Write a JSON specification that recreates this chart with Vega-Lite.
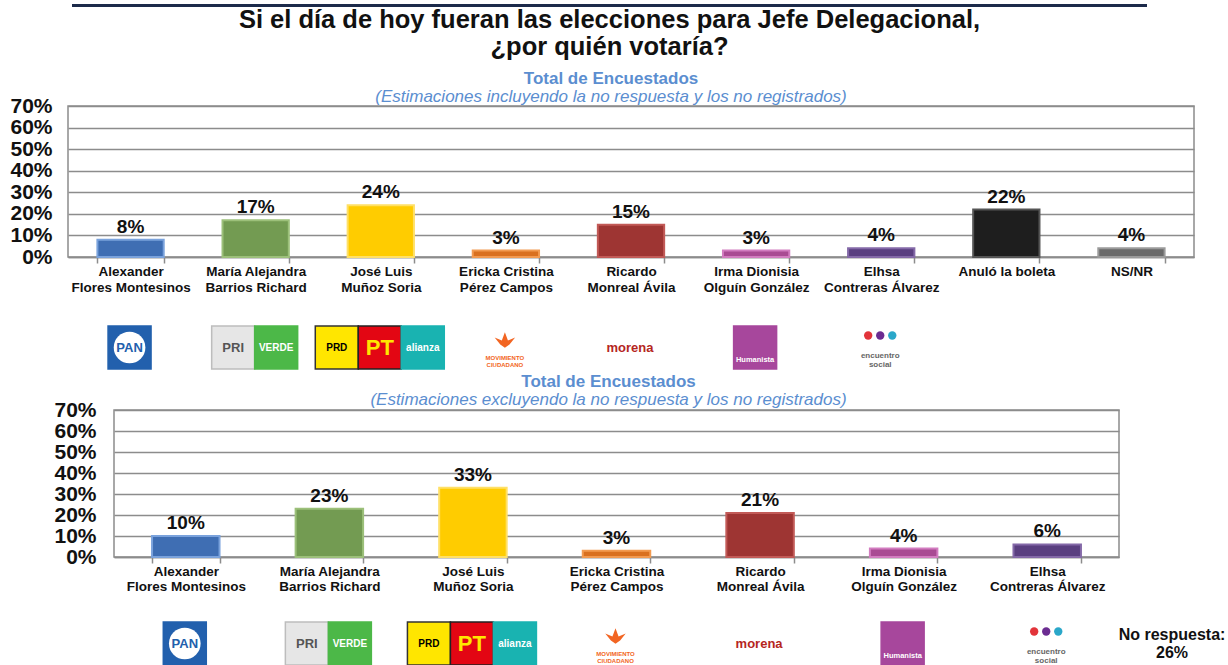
{
  "$schema": "https://vega.github.io/schema/vega-lite/v6.json",
  "padding": {"left": 8, "top": 2, "right": 0, "bottom": 0},
  "background": "white",
  "config": {
    "font": "Liberation Sans",
    "view": {"stroke": "#8c8c8c", "strokeWidth": 1.5},
    "text": {"lineBreak": "\n"}
  },
  "datasets": {
    "incl": [
      {"candidato": "Alexander\nFlores Montesinos", "pct": 0.08},
      {"candidato": "María Alejandra\nBarrios Richard", "pct": 0.17},
      {"candidato": "José Luis\nMuñoz Soria", "pct": 0.24},
      {"candidato": "Ericka Cristina\nPérez Campos", "pct": 0.03},
      {"candidato": "Ricardo\nMonreal Ávila", "pct": 0.15},
      {"candidato": "Irma Dionisia\nOlguín González", "pct": 0.03},
      {"candidato": "Elhsa\nContreras Álvarez", "pct": 0.04},
      {"candidato": "Anuló la boleta", "pct": 0.22},
      {"candidato": "NS/NR", "pct": 0.04}
    ],
    "excl": [
      {"candidato": "Alexander\nFlores Montesinos", "pct": 0.10},
      {"candidato": "María Alejandra\nBarrios Richard", "pct": 0.23},
      {"candidato": "José Luis\nMuñoz Soria", "pct": 0.33},
      {"candidato": "Ericka Cristina\nPérez Campos", "pct": 0.03},
      {"candidato": "Ricardo\nMonreal Ávila", "pct": 0.21},
      {"candidato": "Irma Dionisia\nOlguín González", "pct": 0.04},
      {"candidato": "Elhsa\nContreras Álvarez", "pct": 0.06}
    ],
    "logos": [
      {"cat": "Alexander\nFlores Montesinos", "logo": "PAN", "slot": 0, "label": "PAN"},
      {"cat": "María Alejandra\nBarrios Richard", "logo": "PRI", "slot": -0.5, "label": "PRI"},
      {"cat": "María Alejandra\nBarrios Richard", "logo": "VERDE", "slot": 0.5, "label": "VERDE"},
      {"cat": "José Luis\nMuñoz Soria", "logo": "PRD", "slot": -1, "label": "PRD"},
      {"cat": "José Luis\nMuñoz Soria", "logo": "PT", "slot": 0, "label": "PT"},
      {"cat": "José Luis\nMuñoz Soria", "logo": "ALIANZA", "slot": 1, "label": "alianza"},
      {"cat": "Ericka Cristina\nPérez Campos", "logo": "MC", "slot": 0, "label": "MOVIMIENTO\nCIUDADANO"},
      {"cat": "Ricardo\nMonreal Ávila", "logo": "MORENA", "slot": 0, "label": "morena"},
      {"cat": "Irma Dionisia\nOlguín González", "logo": "HUM", "slot": 0, "label": "Humanista"},
      {"cat": "Elhsa\nContreras Álvarez", "logo": "ES", "slot": 0, "label": "encuentro\nsocial"},
      {"cat": "Elhsa\nContreras Álvarez", "logo": "ES1", "slot": -0.28, "label": ""},
      {"cat": "Elhsa\nContreras Álvarez", "logo": "ES2", "slot": 0, "label": ""},
      {"cat": "Elhsa\nContreras Álvarez", "logo": "ES3", "slot": 0.28, "label": ""}
    ]
  },
  "resolve": {"scale": {"x": "independent", "y": "independent", "xOffset": "independent", "color": "independent", "fill": "independent", "stroke": "independent", "size": "independent"}},
  "spacing": 8,
  "vconcat": [
    {
      "resolve": {"scale": {"x": "independent", "y": "independent", "xOffset": "independent", "color": "independent", "fill": "independent", "stroke": "independent", "size": "independent"}},
      "spacing": 0,
      "hconcat": [
        {
          "width": 64, "height": 3, "view": {"stroke": null},
          "data": {"values": [{"k": 1}]},
          "mark": {"type": "point", "opacity": 0}, "encoding": {}
        },
        {
          "width": 1075,
          "height": 3,
          "view": {"fill": "#1c2a4a", "stroke": null},
          "data": {"values": [{"k": 1}]},
          "mark": {"type": "point", "opacity": 0},
          "encoding": {},
          "title": {
            "text": ["Si el día de hoy fueran las elecciones para Jefe Delegacional,", "¿por quién votaría?"],
            "orient": "bottom", "anchor": "middle", "fontSize": 25.5, "fontWeight": "bold",
            "lineHeight": 27, "offset": 0, "color": "#111111"
          }
        }
      ]
    },
    {
      "resolve": {"scale": {"x": "independent", "y": "independent", "xOffset": "independent", "color": "independent", "fill": "independent", "stroke": "independent", "size": "independent"}},
      "spacing": 0,
      "vconcat": [
        {
          "resolve": {"scale": {"x": "independent", "y": "independent", "xOffset": "independent", "color": "independent", "fill": "independent", "stroke": "independent", "size": "independent"}},
          "spacing": 28,
          "vconcat": [
            {
              "resolve": {"scale": {"x": "independent", "y": "independent", "xOffset": "independent", "color": "independent", "fill": "independent", "stroke": "independent", "size": "independent"}},
              "spacing": 0,
              "hconcat": [
                {
                  "width": 1, "height": 10, "view": {"stroke": null},
                  "data": {"values": [{"k": 1}]},
                  "mark": {"type": "point", "opacity": 0, "size": 1}, "encoding": {}
                },
                {
                  "width": 1126,
                  "height": 151,
                  "data": {"name": "incl"},
                  "title": {
                    "text": "Total de Encuestados",
                    "subtitle": "(Estimaciones incluyendo la no respuesta y los no registrados)",
                    "anchor": "middle", "dx": -20, "fontSize": 17, "fontWeight": "bold", "color": "#5B8ED0",
                    "subtitleFontSize": 17, "subtitleFontStyle": "italic", "subtitleColor": "#5B8ED0",
                    "subtitlePadding": 1, "offset": -11
                  },
                  "encoding": {
                    "x": {
                      "field": "candidato", "type": "nominal", "sort": null,
                      "scale": {"type": "band", "paddingInner": 0.47, "paddingOuter": 0.235},
                      "axis": {"title": null, "labelAngle": 0, "labelExpr": "split(datum.label, '\\n')",
                               "labelFontSize": 13.5, "labelFontWeight": "bold", "labelColor": "#111111",
                               "labelLineHeight": 16, "labelPadding": 1, "labelLimit": 0,
                               "tickBand": "extent", "tickSize": 6, "tickColor": "#8c8c8c", "tickWidth": 1.5,
                               "domainColor": "#8c8c8c", "domainWidth": 1.5}
                    },
                    "y": {
                      "field": "pct", "type": "quantitative",
                      "scale": {"domain": [0, 0.7], "nice": false},
                      "axis": {"title": null, "values": [0, 0.1, 0.2, 0.3, 0.4, 0.5, 0.6, 0.7], "format": ".0%",
                               "labelFontSize": 21, "labelFontWeight": "bold", "labelColor": "#111111", "labelOverlap": false,
                               "ticks": false, "domain": false, "gridColor": "#8c8c8c", "gridWidth": 1.5,
                               "labelPadding": 16, "minExtent": 58, "maxExtent": 58}
                    }
                  },
                  "layer": [
                    {
                      "mark": {"type": "bar", "strokeWidth": 2},
                      "encoding": {
                        "color": {"field": "candidato", "type": "nominal", "legend": null,
                          "scale": {"domain": ["Alexander\nFlores Montesinos", "María Alejandra\nBarrios Richard", "José Luis\nMuñoz Soria", "Ericka Cristina\nPérez Campos", "Ricardo\nMonreal Ávila", "Irma Dionisia\nOlguín González", "Elhsa\nContreras Álvarez", "Anuló la boleta", "NS/NR"],
                                    "range": ["#3f6eb3", "#739b52", "#ffcc00", "#d9701f", "#9e3533", "#a94b93", "#5a3f80", "#1e1e1e", "#6a6a6a"]}},
                        "stroke": {"field": "candidato", "type": "nominal", "legend": null,
                          "scale": {"domain": ["Alexander\nFlores Montesinos", "María Alejandra\nBarrios Richard", "José Luis\nMuñoz Soria", "Ericka Cristina\nPérez Campos", "Ricardo\nMonreal Ávila", "Irma Dionisia\nOlguín González", "Elhsa\nContreras Álvarez", "Anuló la boleta", "NS/NR"],
                                    "range": ["#7aa2dc", "#9cc07a", "#ffe066", "#f29a50", "#c25a57", "#d27cc0", "#8469a8", "#555555", "#9a9a9a"]}}
                      }
                    },
                    {
                      "mark": {"type": "text", "baseline": "bottom", "dy": -3, "fontSize": 19, "fontWeight": "bold", "color": "#111111"},
                      "encoding": {"text": {"field": "pct", "format": ".0%"}}
                    }
                  ]
                }
              ]
            },
            {
              "resolve": {"scale": {"x": "independent", "y": "independent", "xOffset": "independent", "color": "independent", "fill": "independent", "stroke": "independent", "size": "independent"}},
              "spacing": 0,
              "hconcat": [
                {
                  "width": 59, "height": 45, "view": {"stroke": null},
                  "data": {"values": [{"k": 1}]},
                  "mark": {"type": "point", "opacity": 0}, "encoding": {}
                },
                {
                  "width": 1126,
                  "height": 45,
                  "view": {"stroke": null},
                  "data": {"name": "logos"},
                  "encoding": {
                    "x": {"field": "cat", "type": "nominal", "axis": null,
                          "scale": {"type": "point", "padding": 0.5,
                                    "domain": ["Alexander\nFlores Montesinos", "María Alejandra\nBarrios Richard", "José Luis\nMuñoz Soria", "Ericka Cristina\nPérez Campos", "Ricardo\nMonreal Ávila", "Irma Dionisia\nOlguín González", "Elhsa\nContreras Álvarez", "Anuló la boleta", "NS/NR"]}},
                    "xOffset": {"field": "slot", "type": "quantitative", "scale": {"domain": [-1, 1], "range": [-43, 43]}},
                    "color": {"field": "logo", "type": "nominal", "legend": null,
                      "scale": {"domain": ["PAN", "PRI", "VERDE", "PRD", "PT", "ALIANZA", "MC", "MORENA", "HUM", "ES"],
                                "range": ["#2260ad", "#555555", "#ffffff", "#000000", "#ffe600", "#ffffff", "#f26522", "#b5261e", "#ffffff", "#666666"]}}
                  },
                  "layer": [
                    {
                      "transform": [{"filter": {"field": "logo", "oneOf": ["PAN", "PRI", "VERDE", "PRD", "PT", "ALIANZA", "HUM"]}}],
                      "mark": {"type": "point", "shape": "square", "filled": true, "size": 1849, "strokeWidth": 1.5, "opacity": 1},
                      "encoding": {
                        "color": null,
                        "fill": {"field": "logo", "type": "nominal", "legend": null,
                          "scale": {"domain": ["PAN", "PRI", "VERDE", "PRD", "PT", "ALIANZA", "HUM", "ES1", "ES2", "ES3"],
                                    "range": ["#2260ad", "#e6e6e6", "#4cb848", "#ffe600", "#e30613", "#19b3b1", "#a7479c", "#e2343a", "#6b2c91", "#2aa7c9"]}},
                        "stroke": {"field": "logo", "type": "nominal", "legend": null,
                          "scale": {"domain": ["PAN", "PRI", "VERDE", "PRD", "PT", "ALIANZA", "HUM", "ES1", "ES2", "ES3"],
                                    "range": ["#2260ad", "#bdbdbd", "#4cb848", "#333333", "#222222", "#19b3b1", "#a7479c", "#e2343a", "#6b2c91", "#2aa7c9"]}}
                      }
                    },
                    {
                      "transform": [{"filter": "datum.logo == 'PAN'"}],
                      "mark": {"type": "point", "shape": "circle", "filled": true, "size": 1000, "opacity": 1},
                      "encoding": {"color": {"value": "#ffffff"}}
                    },
                    {
                      "transform": [{"filter": {"field": "logo", "oneOf": ["ES1", "ES2", "ES3"]}}],
                      "mark": {"type": "point", "shape": "circle", "filled": true, "size": 70, "yOffset": -12, "opacity": 1},
                      "encoding": {
                        "color": null,
                        "fill": {"field": "logo", "type": "nominal", "legend": null,
                          "scale": {"domain": ["PAN", "PRI", "VERDE", "PRD", "PT", "ALIANZA", "HUM", "ES1", "ES2", "ES3"],
                                    "range": ["#2260ad", "#e6e6e6", "#4cb848", "#ffe600", "#e30613", "#19b3b1", "#a7479c", "#e2343a", "#6b2c91", "#2aa7c9"]}}
                      }
                    },
                    {
                      "transform": [{"filter": "datum.logo == 'MC'"}],
                      "mark": {"type": "point", "shape": "M-1,-0.4 L-0.3,-0.1 L0,-0.9 L0.3,-0.1 L1,-0.4 L0.45,0.3 L0,0.6 L-0.45,0.3 Z", "filled": true, "size": 420, "yOffset": -6, "opacity": 1}
                    },
                    {
                      "transform": [{"filter": {"field": "logo", "oneOf": ["PAN", "PRI", "MORENA"]}}],
                      "mark": {"type": "text", "fontWeight": "bold", "baseline": "middle", "fontSize": 13},
                      "encoding": {"text": {"field": "label"}}
                    },
                    {
                      "transform": [{"filter": {"field": "logo", "oneOf": ["VERDE", "PRD", "ALIANZA"]}}],
                      "mark": {"type": "text", "fontWeight": "bold", "baseline": "middle", "fontSize": 10},
                      "encoding": {"text": {"field": "label"}}
                    },
                    {
                      "transform": [{"filter": "datum.logo == 'PT'"}],
                      "mark": {"type": "text", "fontWeight": "bold", "baseline": "middle", "fontSize": 22},
                      "encoding": {"text": {"field": "label"}}
                    },
                    {
                      "transform": [{"filter": "datum.logo == 'HUM'"}],
                      "mark": {"type": "text", "fontWeight": "bold", "baseline": "middle", "fontSize": 7.5, "dy": 12},
                      "encoding": {"text": {"field": "label"}}
                    },
                    {
                      "transform": [{"filter": "datum.logo == 'MC'"}],
                      "mark": {"type": "text", "fontWeight": "bold", "baseline": "middle", "fontSize": 6, "dy": 10, "lineHeight": 7},
                      "encoding": {"text": {"field": "label"}}
                    },
                    {
                      "transform": [{"filter": "datum.logo == 'ES'"}],
                      "mark": {"type": "text", "fontWeight": "bold", "baseline": "middle", "fontSize": 8, "dy": 8, "lineHeight": 9},
                      "encoding": {"text": {"field": "label"}}
                    }
                  ]
                }
              ]
            }
          ]
        },
        {
          "resolve": {"scale": {"x": "independent", "y": "independent", "xOffset": "independent", "color": "independent", "fill": "independent", "stroke": "independent", "size": "independent"}},
          "spacing": 25,
          "vconcat": [
            {
              "resolve": {"scale": {"x": "independent", "y": "independent", "xOffset": "independent", "color": "independent", "fill": "independent", "stroke": "independent", "size": "independent"}},
              "spacing": 0,
              "hconcat": [
                {
                  "width": 45, "height": 10, "view": {"stroke": null},
                  "data": {"values": [{"k": 1}]},
                  "mark": {"type": "point", "opacity": 0}, "encoding": {}
                },
                {
                  "width": 1005,
                  "height": 147,
                  "data": {"name": "excl"},
                  "title": {
                    "text": "Total de Encuestados",
                    "subtitle": "(Estimaciones excluyendo la no respuesta y los no registrados)",
                    "anchor": "middle", "dx": -8, "fontSize": 17, "fontWeight": "bold", "color": "#5B8ED0",
                    "subtitleFontSize": 17, "subtitleFontStyle": "italic", "subtitleColor": "#5B8ED0",
                    "subtitlePadding": 1, "offset": -10
                  },
                  "encoding": {
                    "x": {
                      "field": "candidato", "type": "nominal", "sort": null,
                      "scale": {"type": "band", "paddingInner": 0.53, "paddingOuter": 0.265},
                      "axis": {"title": null, "labelAngle": 0, "labelExpr": "split(datum.label, '\\n')",
                               "labelFontSize": 13.5, "labelFontWeight": "bold", "labelColor": "#111111",
                               "labelLineHeight": 15, "labelPadding": 1, "labelLimit": 0,
                               "tickBand": "extent", "tickSize": 6, "tickColor": "#8c8c8c", "tickWidth": 1.5,
                               "domainColor": "#8c8c8c", "domainWidth": 1.5}
                    },
                    "y": {
                      "field": "pct", "type": "quantitative",
                      "scale": {"domain": [0, 0.7], "nice": false},
                      "axis": {"title": null, "values": [0, 0.1, 0.2, 0.3, 0.4, 0.5, 0.6, 0.7], "format": ".0%",
                               "labelFontSize": 21, "labelFontWeight": "bold", "labelColor": "#111111", "labelOverlap": false,
                               "ticks": false, "domain": false, "gridColor": "#8c8c8c", "gridWidth": 1.5,
                               "labelPadding": 18, "minExtent": 60, "maxExtent": 60}
                    }
                  },
                  "layer": [
                    {
                      "mark": {"type": "bar", "strokeWidth": 2},
                      "encoding": {
                        "color": {"field": "candidato", "type": "nominal", "legend": null,
                          "scale": {"domain": ["Alexander\nFlores Montesinos", "María Alejandra\nBarrios Richard", "José Luis\nMuñoz Soria", "Ericka Cristina\nPérez Campos", "Ricardo\nMonreal Ávila", "Irma Dionisia\nOlguín González", "Elhsa\nContreras Álvarez"],
                                    "range": ["#3f6eb3", "#739b52", "#ffcc00", "#d9701f", "#9e3533", "#a94b93", "#5a3f80"]}},
                        "stroke": {"field": "candidato", "type": "nominal", "legend": null,
                          "scale": {"domain": ["Alexander\nFlores Montesinos", "María Alejandra\nBarrios Richard", "José Luis\nMuñoz Soria", "Ericka Cristina\nPérez Campos", "Ricardo\nMonreal Ávila", "Irma Dionisia\nOlguín González", "Elhsa\nContreras Álvarez"],
                                    "range": ["#7aa2dc", "#9cc07a", "#ffe066", "#f29a50", "#c25a57", "#d27cc0", "#8469a8"]}}
                      }
                    },
                    {
                      "mark": {"type": "text", "baseline": "bottom", "dy": -3, "fontSize": 19, "fontWeight": "bold", "color": "#111111"},
                      "encoding": {"text": {"field": "pct", "format": ".0%"}}
                    }
                  ]
                }
              ]
            },
            {
              "resolve": {"scale": {"x": "independent", "y": "independent", "xOffset": "independent", "color": "independent", "fill": "independent", "stroke": "independent", "size": "independent"}},
              "spacing": 0,
              "hconcat": [
                {
                  "width": 105, "height": 45, "view": {"stroke": null},
                  "data": {"values": [{"k": 1}]},
                  "mark": {"type": "point", "opacity": 0}, "encoding": {}
                },
                {
                  "width": 1005,
                  "height": 45,
                  "view": {"stroke": null},
                  "data": {"name": "logos"},
                  "encoding": {
                    "x": {"field": "cat", "type": "nominal", "axis": null,
                          "scale": {"type": "point", "padding": 0.5,
                                    "domain": ["Alexander\nFlores Montesinos", "María Alejandra\nBarrios Richard", "José Luis\nMuñoz Soria", "Ericka Cristina\nPérez Campos", "Ricardo\nMonreal Ávila", "Irma Dionisia\nOlguín González", "Elhsa\nContreras Álvarez"]}},
                    "xOffset": {"field": "slot", "type": "quantitative", "scale": {"domain": [-1, 1], "range": [-43, 43]}},
                    "color": {"field": "logo", "type": "nominal", "legend": null,
                      "scale": {"domain": ["PAN", "PRI", "VERDE", "PRD", "PT", "ALIANZA", "MC", "MORENA", "HUM", "ES"],
                                "range": ["#2260ad", "#555555", "#ffffff", "#000000", "#ffe600", "#ffffff", "#f26522", "#b5261e", "#ffffff", "#666666"]}}
                  },
                  "layer": [
                    {
                      "transform": [{"filter": {"field": "logo", "oneOf": ["PAN", "PRI", "VERDE", "PRD", "PT", "ALIANZA", "HUM"]}}],
                      "mark": {"type": "point", "shape": "square", "filled": true, "size": 1849, "strokeWidth": 1.5, "opacity": 1},
                      "encoding": {
                        "color": null,
                        "fill": {"field": "logo", "type": "nominal", "legend": null,
                          "scale": {"domain": ["PAN", "PRI", "VERDE", "PRD", "PT", "ALIANZA", "HUM", "ES1", "ES2", "ES3"],
                                    "range": ["#2260ad", "#e6e6e6", "#4cb848", "#ffe600", "#e30613", "#19b3b1", "#a7479c", "#e2343a", "#6b2c91", "#2aa7c9"]}},
                        "stroke": {"field": "logo", "type": "nominal", "legend": null,
                          "scale": {"domain": ["PAN", "PRI", "VERDE", "PRD", "PT", "ALIANZA", "HUM", "ES1", "ES2", "ES3"],
                                    "range": ["#2260ad", "#bdbdbd", "#4cb848", "#333333", "#222222", "#19b3b1", "#a7479c", "#e2343a", "#6b2c91", "#2aa7c9"]}}
                      }
                    },
                    {
                      "transform": [{"filter": "datum.logo == 'PAN'"}],
                      "mark": {"type": "point", "shape": "circle", "filled": true, "size": 1000, "opacity": 1},
                      "encoding": {"color": {"value": "#ffffff"}}
                    },
                    {
                      "transform": [{"filter": {"field": "logo", "oneOf": ["ES1", "ES2", "ES3"]}}],
                      "mark": {"type": "point", "shape": "circle", "filled": true, "size": 70, "yOffset": -12, "opacity": 1},
                      "encoding": {
                        "color": null,
                        "fill": {"field": "logo", "type": "nominal", "legend": null,
                          "scale": {"domain": ["PAN", "PRI", "VERDE", "PRD", "PT", "ALIANZA", "HUM", "ES1", "ES2", "ES3"],
                                    "range": ["#2260ad", "#e6e6e6", "#4cb848", "#ffe600", "#e30613", "#19b3b1", "#a7479c", "#e2343a", "#6b2c91", "#2aa7c9"]}}
                      }
                    },
                    {
                      "transform": [{"filter": "datum.logo == 'MC'"}],
                      "mark": {"type": "point", "shape": "M-1,-0.4 L-0.3,-0.1 L0,-0.9 L0.3,-0.1 L1,-0.4 L0.45,0.3 L0,0.6 L-0.45,0.3 Z", "filled": true, "size": 420, "yOffset": -6, "opacity": 1}
                    },
                    {
                      "transform": [{"filter": {"field": "logo", "oneOf": ["PAN", "PRI", "MORENA"]}}],
                      "mark": {"type": "text", "fontWeight": "bold", "baseline": "middle", "fontSize": 13},
                      "encoding": {"text": {"field": "label"}}
                    },
                    {
                      "transform": [{"filter": {"field": "logo", "oneOf": ["VERDE", "PRD", "ALIANZA"]}}],
                      "mark": {"type": "text", "fontWeight": "bold", "baseline": "middle", "fontSize": 10},
                      "encoding": {"text": {"field": "label"}}
                    },
                    {
                      "transform": [{"filter": "datum.logo == 'PT'"}],
                      "mark": {"type": "text", "fontWeight": "bold", "baseline": "middle", "fontSize": 22},
                      "encoding": {"text": {"field": "label"}}
                    },
                    {
                      "transform": [{"filter": "datum.logo == 'HUM'"}],
                      "mark": {"type": "text", "fontWeight": "bold", "baseline": "middle", "fontSize": 7.5, "dy": 12},
                      "encoding": {"text": {"field": "label"}}
                    },
                    {
                      "transform": [{"filter": "datum.logo == 'MC'"}],
                      "mark": {"type": "text", "fontWeight": "bold", "baseline": "middle", "fontSize": 6, "dy": 10, "lineHeight": 7},
                      "encoding": {"text": {"field": "label"}}
                    },
                    {
                      "transform": [{"filter": "datum.logo == 'ES'"}],
                      "mark": {"type": "text", "fontWeight": "bold", "baseline": "middle", "fontSize": 8, "dy": 8, "lineHeight": 9},
                      "encoding": {"text": {"field": "label"}}
                    }
                  ]
                },
                {
                  "width": 100,
                  "height": 45,
                  "view": {"stroke": null},
                  "data": {"values": [{"label": "No respuesta:\n26%"}]},
                  "mark": {"type": "text", "fontSize": 16, "fontWeight": "bold", "lineHeight": 18, "color": "#111111", "baseline": "middle", "dy": -9},
                  "encoding": {"text": {"field": "label"}}
                }
              ]
            }
          ]
        }
      ]
    }
  ]
}
